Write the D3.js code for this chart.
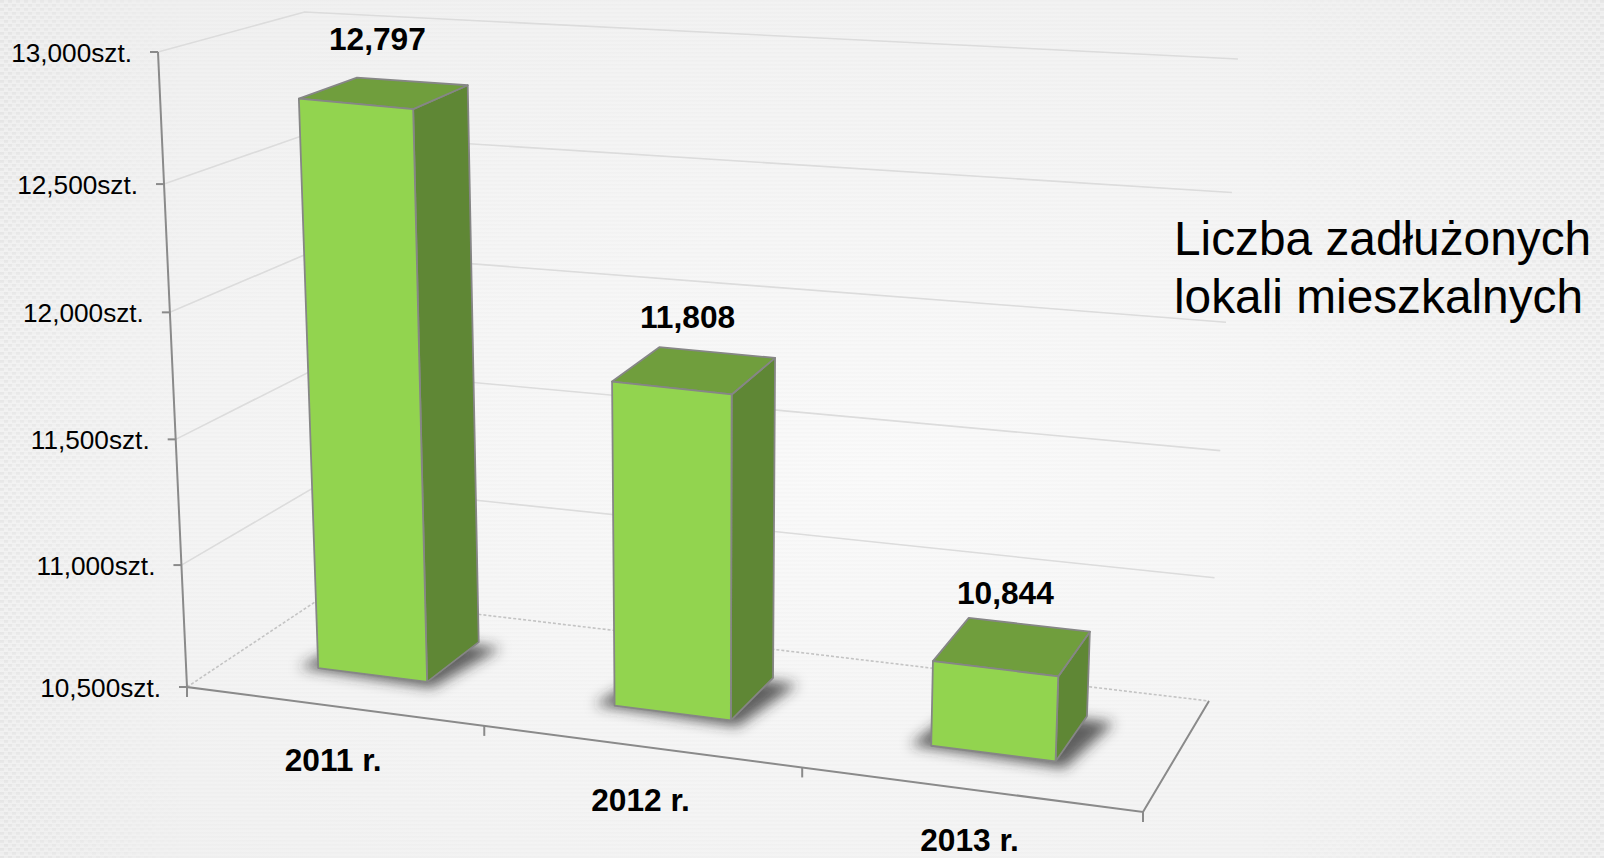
<!DOCTYPE html>
<html>
<head>
<meta charset="utf-8">
<script src="https://cdnjs.cloudflare.com/ajax/libs/d3/7.8.5/d3.min.js"></script>
<style>
html, body { margin: 0; padding: 0; background: #f4f4f4; overflow: hidden; }
text { font-family: "Liberation Sans", Arial, sans-serif; fill: #000; }
</style>
</head>
<body>
<div id="chart"></div>
<script>
var categories = ["2011 r.", "2012 r.", "2013 r."];
var values = [12797, 11808, 10844];
var tickValues = [10500, 11000, 11500, 12000, 12500, 13000];
var titleLines = ["Liczba zadłużonych", "lokali mieszkalnych"];

var width = 1604, height = 858;

var svg = d3.select("#chart").append("svg")
    .attr("width", width)
    .attr("height", height)
    .style("display", "block");

var defs = svg.append("defs");

// background: soft vignette, fine stripes, dots fading out to the edges
var glow = defs.append("radialGradient").attr("id", "glow")
    .attr("cx", "55%").attr("cy", "55%").attr("r", "70%");
glow.append("stop").attr("offset", "0%").attr("stop-color", "#fafafa");
glow.append("stop").attr("offset", "100%").attr("stop-color", "#f0f0f0");

defs.append("pattern").attr("id", "stripes")
    .attr("width", 4).attr("height", 4).attr("patternUnits", "userSpaceOnUse")
    .append("rect").attr("width", 4).attr("height", 1.5).attr("fill", "#000").attr("fill-opacity", 0.012);

var dots = defs.append("pattern").attr("id", "dots")
    .attr("width", 8).attr("height", 8).attr("patternUnits", "userSpaceOnUse");
dots.append("rect").attr("width", 4).attr("height", 3).attr("fill", "#000").attr("fill-opacity", 0.03);
dots.append("rect").attr("x", 4).attr("y", 4).attr("width", 4).attr("height", 3).attr("fill", "#000").attr("fill-opacity", 0.03);

var fadeL = defs.append("linearGradient").attr("id", "fadeL");
fadeL.append("stop").attr("offset", "0%").attr("stop-color", "#fff");
fadeL.append("stop").attr("offset", "100%").attr("stop-color", "#000");
var fadeR = defs.append("linearGradient").attr("id", "fadeR");
fadeR.append("stop").attr("offset", "0%").attr("stop-color", "#000");
fadeR.append("stop").attr("offset", "100%").attr("stop-color", "#fff");
defs.append("mask").attr("id", "maskL").append("rect")
    .attr("width", 190).attr("height", height).attr("fill", "url(#fadeL)");
defs.append("mask").attr("id", "maskR").append("rect")
    .attr("x", 1240).attr("width", 364).attr("height", height).attr("fill", "url(#fadeR)");

defs.append("filter").attr("id", "soft")
    .append("feGaussianBlur").attr("stdDeviation", 0.6);
defs.append("filter").attr("id", "shadowBlur")
    .attr("x", "-30%").attr("y", "-30%").attr("width", "160%").attr("height", "160%")
    .append("feGaussianBlur").attr("stdDeviation", 6.5);

svg.append("rect").attr("width", width).attr("height", height).attr("fill", "url(#glow)");
svg.append("rect").attr("width", width).attr("height", height).attr("fill", "url(#stripes)");
svg.append("rect").attr("width", 190).attr("height", height).attr("fill", "url(#dots)").attr("mask", "url(#maskL)");
svg.append("rect").attr("x", 1240).attr("width", 364).attr("height", height).attr("fill", "url(#dots)").attr("mask", "url(#maskR)");

// unit square -> quad (perspective), corners: front-left, front-right, back-right, back-left
function quadMap(q) {
    var dx1 = q[1][0] - q[2][0], dx2 = q[3][0] - q[2][0], sx = q[0][0] - q[1][0] + q[2][0] - q[3][0];
    var dy1 = q[1][1] - q[2][1], dy2 = q[3][1] - q[2][1], sy = q[0][1] - q[1][1] + q[2][1] - q[3][1];
    var det = dx1 * dy2 - dx2 * dy1;
    var g = (sx * dy2 - dx2 * sy) / det, h = (dx1 * sy - sx * dy1) / det;
    var a = q[1][0] - q[0][0] + g * q[1][0], b = q[3][0] - q[0][0] + h * q[3][0];
    var d = q[1][1] - q[0][1] + g * q[1][1], e = q[3][1] - q[0][1] + h * q[3][1];
    return function(u, w) {
        var k = g * u + h * w + 1;
        return [(a * u + b * w + q[0][0]) / k, (d * u + e * w + q[0][1]) / k];
    };
}

var floorMap = quadMap([[187, 687], [1143, 812], [1209, 701], [324, 596]]);
var vanish = [702, 11960]; // verticals meet far below the picture

// wall height at a floor position
function wallHeight(u, w) {
    return 635 + 15 * u - 51 * w + 43 * u * w;
}

var x = d3.scaleBand().domain(categories).range([-0.003, 0.997]).paddingInner(0.625).paddingOuter(0.3125);
var z = d3.scaleLinear().domain([0, 1]).range([0.31, 0.73]);
// the ticks are not quite evenly spaced on the slanted axis
var y = d3.scaleLinear().domain(tickValues).range([0, 0.192, 0.39, 0.59, 0.792, 1]);

function project(u, w, v) {
    var p = floorMap(u, w), rise = wallHeight(u, w) * y(v);
    return [p[0] + (p[0] - vanish[0]) * rise / (vanish[1] - p[1]), p[1] - rise];
}

var poly = d3.line();
var base = tickValues[0], top3d = tickValues[tickValues.length - 1];

var chart = svg.append("g").attr("filter", "url(#soft)");

// walls
var grid = chart.append("g").attr("fill", "none").attr("stroke-width", 1.6);
tickValues.forEach(function(v) {
    grid.append("path").attr("d", poly([project(0, 0, v), project(0, 1, v), project(1, 1, v)]))
        .attr("stroke-dasharray", v === base ? "3,2" : null)
        .attr("stroke", v === base ? "#c4c4c4" : "#dcdcdc");
});

// floor edges and axes
var axes = chart.append("g").attr("fill", "none").attr("stroke", "#8a8a8a").attr("stroke-width", 2);
axes.append("path").attr("d", poly([project(0, 0, top3d), project(0, 0, base), project(1, 0, base), project(1, 1, base)]));
axes.selectAll(".ytick").data(tickValues).enter().append("path")
    .attr("class", "ytick")
    .attr("d", function(v) { var p = project(0, 0, v); return poly([p, [p[0] - 8, p[1]]]); });
axes.selectAll(".xtick").data(d3.range(categories.length + 1)).enter().append("path")
    .attr("class", "xtick")
    .attr("d", function(i) { var p = project(i / categories.length, 0, base); return poly([p, [p[0], p[1] + 10]]); });

// bars
var bars = categories.map(function(c, i) {
    return {name: c, value: values[i], u0: x(c), u1: x(c) + x.bandwidth()};
});

var shadows = chart.append("g");
bars.forEach(function(b) {
    shadows.append("path")
        .attr("d", poly([project(b.u0 - 0.02, z(0) - 0.015, base), project(b.u1 + 0.012, z(0) - 0.045, base),
                         project(b.u1 + 0.03, z(1) - 0.03, base), project(b.u0, z(1) - 0.03, base)]) + "Z")
        .attr("fill", "#2e2e2e").attr("fill-opacity", 0.75)
        .attr("filter", "url(#shadowBlur)");
});

var barG = chart.selectAll(".bar").data(bars).enter().append("g")
    .attr("class", "bar")
    .attr("stroke", "#868686").attr("stroke-width", 1.8).attr("stroke-linejoin", "round");

barG.append("path")
    .attr("d", function(b) {
        return poly([project(b.u1, z(0), base), project(b.u1, z(1), base), project(b.u1, z(1), b.value), project(b.u1, z(0), b.value)]) + "Z";
    })
    .attr("fill", "#5f8734");
barG.append("path")
    .attr("d", function(b) {
        return poly([project(b.u0, z(0), b.value), project(b.u1, z(0), b.value), project(b.u1, z(1), b.value), project(b.u0, z(1), b.value)]) + "Z";
    })
    .attr("fill", "#6f9e3c");
barG.append("path")
    .attr("d", function(b) {
        return poly([project(b.u0, z(0), base), project(b.u1, z(0), base), project(b.u1, z(0), b.value), project(b.u0, z(0), b.value)]) + "Z";
    })
    .attr("fill", "#92d450");

// labels
var fmt = d3.format(",");
svg.append("g").selectAll("text").data(tickValues).enter().append("text")
    .attr("x", function(v) { return project(0, 0, v)[0] - 26; })
    .attr("y", function(v) { return project(0, 0, v)[1] + 10; })
    .attr("text-anchor", "end")
    .attr("font-size", 26.2)
    .attr("fill", "#111")
    .text(function(v) { return fmt(v) + "szt."; });

svg.append("g").selectAll("text").data(bars).enter().append("text")
    .attr("x", function(b) { return project((b.u0 + b.u1) / 2, z(0.5), b.value)[0] - 7; })
    .attr("y", function(b) { return project((b.u0 + b.u1) / 2, z(0.5), b.value)[1] - 42; })
    .attr("text-anchor", "middle")
    .attr("font-size", 31.7)
    .attr("font-weight", "bold")
    .text(function(b) { return fmt(b.value); });

svg.append("g").selectAll("text").data(bars).enter().append("text")
    .attr("x", function(b) { return project((b.u0 + b.u1) / 2 + 0.003, 0, base)[0]; })
    .attr("y", function(b) { return Math.min(project((b.u0 + b.u1) / 2, 0, base)[1] + 65, 851); })
    .attr("text-anchor", "middle")
    .attr("font-size", 31.7)
    .attr("font-weight", "bold")
    .text(function(b) { return b.name; });

svg.append("g").selectAll("text").data(titleLines).enter().append("text")
    .attr("x", 1174)
    .attr("y", function(d, i) { return 255 + i * 58; })
    .attr("font-size", 47.8)
    .text(function(d) { return d; });
</script>
</body>
</html>
